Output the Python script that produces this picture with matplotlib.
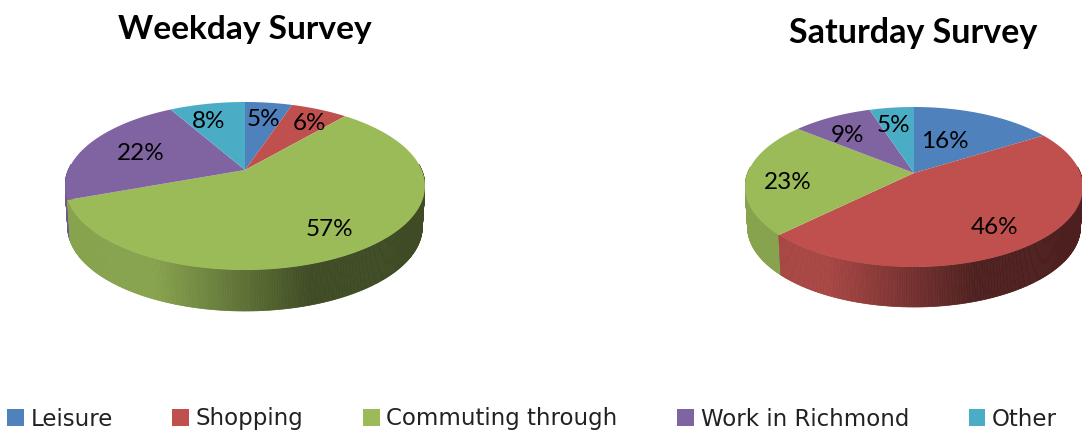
import numpy as np
import matplotlib
matplotlib.use("Agg")
import matplotlib.pyplot as plt
from matplotlib.collections import PolyCollection
from matplotlib.patches import Patch
from matplotlib.path import Path
from matplotlib.transforms import Transform, Affine2D
from matplotlib.colors import to_rgb

categories = ["Leisure", "Shopping", "Commuting through", "Work in Richmond", "Other"]
colors = ["#4F81BD", "#C0504D", "#9BBB59", "#8064A2", "#4BACC6"]
weekday = [5, 6, 57, 22, 8]
saturday = [16, 46, 23, 9, 5]

weekday_label_px = [(263, 119), (310, 123), (329, 229), (141, 154), (209, 122)]
saturday_label_px = [(945, 141), (995, 227), (788, 183), (848, 136), (893, 125)]

W, H = 1082, 433
fig = plt.figure(figsize=(W / 100, H / 100), dpi=100, facecolor="white")


class Tilt(Transform):
    """Perspective of the disc: the pie centre moves up, the rim stays on the circle."""
    input_dims = output_dims = 2

    def __init__(self, p):
        super().__init__()
        self.p = p

    def transform_non_affine(self, xy):
        xy = np.asarray(xy, float)
        d = 1 + self.p * xy[:, 1]
        return np.column_stack((xy[:, 0] * np.sqrt(1 - self.p ** 2) / d,
                                (xy[:, 1] + self.p) / d))

    def transform_path_non_affine(self, path):
        polys = path.to_polygons(transform=Affine2D().scale(2000), closed_only=True)
        return Path(self.transform_non_affine(polys[0] / 2000), closed=True)


def pie3d(values, title, title_xy, title_size, cx, cy, rx, ry, depth, apex_y, label_px):
    ax = fig.add_axes([(cx - rx) / W, 1 - (cy + ry + depth + 2) / H,
                       2 * rx / W, (2 * ry + depth + 4) / H])
    total = sum(values)
    dy = depth / ry
    tilt = Tilt((cy - apex_y) / ry)
    edges = np.cumsum([0] + list(values)) / total

    # side wall: strips along the rim, coloured by the slice they belong to
    t = np.linspace(0, 2 * np.pi, 721)
    rim = tilt.transform_non_affine(np.column_stack((np.cos(t), np.sin(t))))
    polys, cols = [], []
    for k in range(len(t) - 1):
        (x0, y0), (x1, y1) = rim[k], rim[k + 1]
        if min(y0, y1) > 0.25:
            continue
        m = (t[k] + t[k + 1]) / 2
        frac = ((np.pi / 2 - m) / (2 * np.pi)) % 1
        i = min(np.searchsorted(edges, frac, side="right") - 1, len(values) - 1)
        shade = np.clip(0.6 - 0.27 * (x0 + x1), 0.40, 0.87)
        polys.append([(x0, y0), (x1, y1), (x1 * 0.985, y1 - dy), (x0 * 0.985, y0 - dy)])
        cols.append(tuple(c * shade for c in to_rgb(colors[i])))
    ax.add_collection(PolyCollection(polys, facecolors=cols, edgecolors=cols,
                                     linewidths=0.5, zorder=0.5))
    # top face
    wedges, _ = ax.pie(values, colors=colors, startangle=90, counterclock=False,
                       radius=1, frame=False)
    ax.set_aspect("auto")
    ax.set_xlim(-1, 1)
    ax.set_ylim(-1 - dy - 2 / ry, 1 + 2 / ry)
    ax.axis("off")
    for w in wedges:
        w.set_transform(tilt + ax.transData)
        w.set_zorder(1)
        w.set_clip_on(False)
    for v, (px, py) in zip(values, label_px):
        fig.text(px / W, 1 - py / H, f"{v}%", ha="center", va="center",
                 fontsize=17.5, family="Lato", color="black")
    fig.text(title_xy[0] / W, 1 - title_xy[1] / H, title, ha="center", va="center",
             fontsize=title_size, fontweight="bold", family="Lato", color="black")


pie3d(weekday, "Weekday Survey", (245, 30), 24.1, 245, 186, 180, 84, 41, 170, weekday_label_px)
pie3d(saturday, "Saturday Survey", (913, 33), 24.5, 914, 187, 169, 80, 40, 173, saturday_label_px)

handles = [Patch(facecolor=c, edgecolor="none") for c in colors]
fig.legend(handles, categories, ncol=5, loc="center", bbox_to_anchor=(532 / W, 1 - 419 / H),
           frameon=False, prop={"family": "DejaVu Sans", "size": 16.5},
           labelcolor="#222222",
           handlelength=0.72, handleheight=0.72, handletextpad=0.3, columnspacing=2.6,
           borderpad=0, borderaxespad=0)
fig.savefig("out.png", dpi=100, facecolor="white")
